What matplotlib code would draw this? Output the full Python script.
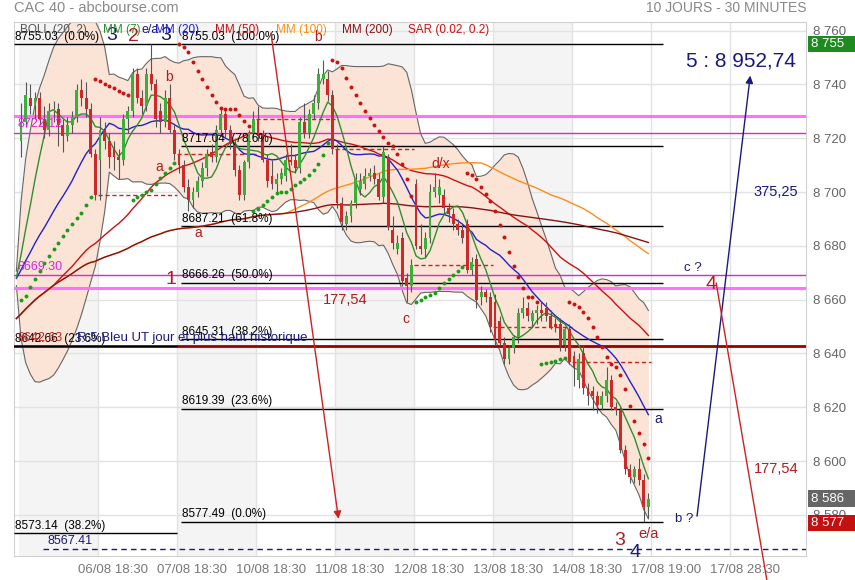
import numpy as np
import pandas as pd
import matplotlib
matplotlib.use("Agg")
import matplotlib.pyplot as plt
from matplotlib import transforms
from matplotlib.patches import Rectangle

plt.rcParams['font.family'] = ['Liberation Sans', 'DejaVu Sans']

# closes of 04/08 - 05/08 (not shown), only used to warm up the averages
prev_closes = [8632, 8635, 8638, 8641, 8637, 8634, 8636, 8640, 8643, 8645, 8642,
               8639, 8641, 8644, 8646, 8643, 8640, 8638, 8637, 8639, 8636, 8641,
               8664, 8667, 8669, 8668, 8666, 8668, 8670, 8669, 8667, 8668,
               8669, 8668, 8667, 8668, 8669, 8670, 8668, 8667, 8668, 8668]

# 30 minutes candles, 17 per session (06/08 -> 17/08)
opens = [
    8719, 8726, 8735, 8732, 8735, 8727, 8723, 8730, 8731, 8725, 8721, 8725, 8728, 8738, 8735, 8731, 8714,
    8712, 8723, 8719, 8716, 8713, 8712, 8727, 8730, 8744, 8735, 8732, 8744, 8740, 8730, 8726, 8735, 8723,
    8714, 8710, 8702, 8697, 8700, 8704, 8709, 8715, 8713, 8723, 8729, 8723, 8718, 8708, 8699, 8711, 8722,
    8727, 8721, 8712, 8706, 8703, 8705, 8706, 8712, 8712, 8709, 8726, 8722, 8729, 8733, 8742, 8742, 8736,
    8716, 8696, 8688, 8691, 8696, 8701, 8703, 8706, 8707, 8705, 8698, 8713, 8686, 8679, 8683, 8668, 8665,
    8703, 8680, 8679, 8683, 8700, 8699, 8699, 8694, 8692, 8688, 8686, 8688, 8671, 8675, 8661, 8663, 8661,
    8659, 8652, 8644, 8638, 8642, 8646, 8655, 8657, 8652, 8655, 8656, 8657, 8654, 8651, 8651, 8643, 8649,
    8639, 8630, 8640, 8627, 8626, 8624, 8621, 8624, 8630, 8620, 8619, 8604, 8597, 8594, 8597, 8593, 8583,
]
highs = [
    8733, 8741, 8740, 8737, 8737, 8732, 8733, 8734, 8733, 8727, 8728, 8730, 8740, 8742, 8741, 8733, 8716,
    8728, 8726, 8722, 8719, 8716, 8729, 8732, 8746, 8746, 8738, 8746, 8755, 8742, 8733, 8738, 8740, 8725,
    8716, 8712, 8705, 8702, 8706, 8711, 8716, 8718, 8725, 8731, 8731, 8725, 8720, 8710, 8712, 8723, 8730,
    8732, 8723, 8714, 8712, 8707, 8709, 8714, 8718, 8714, 8728, 8733, 8731, 8736, 8746, 8749, 8745, 8738,
    8718, 8698, 8693, 8697, 8707, 8707, 8709, 8709, 8710, 8707, 8717, 8714, 8691, 8684, 8685, 8670, 8675,
    8705, 8688, 8685, 8703, 8707, 8705, 8701, 8696, 8694, 8690, 8688, 8690, 8676, 8677, 8665, 8664, 8663,
    8662, 8654, 8646, 8643, 8647, 8657, 8661, 8659, 8656, 8658, 8659, 8659, 8656, 8653, 8653, 8650, 8651,
    8641, 8640, 8643, 8629, 8628, 8626, 8626, 8635, 8632, 8622, 8620, 8606, 8599, 8598, 8601, 8595, 8588,
]
lows = [
    8713, 8724, 8729, 8727, 8725, 8720, 8721, 8726, 8717, 8715, 8719, 8722, 8726, 8732, 8728, 8713, 8697,
    8697, 8716, 8709, 8708, 8705, 8710, 8722, 8728, 8733, 8729, 8730, 8738, 8724, 8722, 8724, 8722, 8712,
    8707, 8700, 8693, 8694, 8698, 8702, 8706, 8711, 8711, 8721, 8720, 8716, 8706, 8697, 8697, 8709, 8720,
    8719, 8711, 8702, 8701, 8700, 8703, 8704, 8710, 8707, 8707, 8720, 8720, 8727, 8731, 8740, 8734, 8714,
    8694, 8686, 8686, 8689, 8694, 8699, 8701, 8704, 8703, 8697, 8696, 8686, 8679, 8677, 8665, 8659, 8663,
    8679, 8677, 8676, 8681, 8698, 8696, 8692, 8689, 8686, 8684, 8681, 8670, 8669, 8657, 8658, 8659, 8648,
    8643, 8643, 8636, 8636, 8640, 8644, 8653, 8652, 8650, 8651, 8652, 8652, 8649, 8648, 8641, 8641, 8636,
    8628, 8627, 8625, 8621, 8619, 8618, 8619, 8622, 8619, 8617, 8603, 8595, 8592, 8592, 8591, 8577.49, 8579,
]
closes = [
    8726, 8736, 8732, 8735, 8727, 8723, 8730, 8731, 8725, 8721, 8725, 8728, 8738, 8735, 8731, 8714, 8699,
    8723, 8719, 8713, 8713, 8712, 8727, 8730, 8744, 8735, 8732, 8744, 8740, 8727, 8726, 8735, 8723, 8714,
    8710, 8702, 8697, 8700, 8704, 8709, 8714, 8713, 8723, 8729, 8723, 8718, 8708, 8699, 8711, 8722, 8727,
    8721, 8712, 8704, 8703, 8705, 8707, 8712, 8711, 8709, 8726, 8722, 8729, 8733, 8744, 8744, 8736, 8716,
    8696, 8689, 8691, 8696, 8705, 8704, 8706, 8707, 8705, 8698, 8715, 8687, 8681, 8681, 8667, 8665, 8673,
    8680, 8679, 8683, 8700, 8702, 8702, 8694, 8692, 8688, 8686, 8683, 8671, 8674, 8660, 8663, 8661, 8650,
    8645, 8644, 8638, 8642, 8646, 8655, 8657, 8654, 8655, 8656, 8655, 8654, 8650, 8650, 8643, 8649, 8637,
    8635, 8638, 8627, 8624, 8624, 8621, 8624, 8630, 8620, 8619, 8604, 8597, 8594, 8597, 8593, 8583, 8586,
]
sar_start = 8660

per_day = 17
time_labels = ["06/08 18:30", "07/08 18:30", "10/08 18:30", "11/08 18:30", "12/08 18:30",
               "13/08 18:30", "14/08 18:30", "17/08 19:00", "17/08 28:30"]
price_ticks = list(range(8580, 8761, 20))

fib_left_levels = [8755.03, 8642.66, 8573.14]
fib_left_pcts = ["0.0%", "23.6%", "38.2%"]
fib_right_levels = [8755.03, 8717.04, 8687.21, 8666.26, 8645.31, 8619.39, 8577.49]
fib_right_pcts = ["100.0%", "78.6%", "61.8%", "50.0%", "38.2%", "23.6%", "0.0%"]
magenta_levels = [8722.12, 8669.30]
pink_levels = [8728.2, 8664.2]
resistance = 8642.63
support = 8567.41
last_price, day_high, day_low = 8586, 8755, 8577

NAVY = '#1a1a7a'
DRED = '#b01c1c'


def psar(high, low, start, step=0.02, amax=0.2):
    n = len(high)
    out = np.zeros(n)
    trend = np.zeros(n, dtype=bool)
    s, ep, af, up = start, high[0], step, True
    out[0], trend[0] = s, True
    for i in range(1, n):
        s = s + af * (ep - s)
        if up:
            s = min(s, low[i - 1], low[max(i - 2, 0)])
            if low[i] < s:
                up, s, ep, af = False, ep, low[i], step
            elif high[i] > ep:
                ep, af = high[i], min(af + step, amax)
        else:
            s = max(s, high[i - 1], high[max(i - 2, 0)])
            if high[i] > s:
                up, s, ep, af = True, ep, high[i], step
            elif low[i] < ep:
                ep, af = low[i], min(af + step, amax)
        out[i], trend[i] = s, up
    return out, trend


o = np.array(opens, float)
h = np.array(highs, float)
l = np.array(lows, float)
c = np.array(closes, float)
n = len(c)
x = np.arange(n) + 0.5

fig = plt.figure(figsize=(8.55, 5.8), dpi=100)
ax = fig.add_axes([14 / 855, 24 / 580, 792 / 855, 534 / 580])
ax.set_xlim(-1.01, 169.42)
ax.set_ylim(8564.7, 8763.2)

# alternating session background
for d in range(0, 8, 2):
    ax.axvspan(d * per_day, (d + 1) * per_day, color='#f4f4f4', lw=0, zorder=0)

ax.set_yticks(price_ticks)
ax.set_yticklabels([f"{v:,}".replace(",", " ") for v in price_ticks])
ax.yaxis.tick_right()
ax.set_xticks(np.arange(1, 10) * per_day)
ax.set_xticklabels([])
ax.set_xticks(np.arange(1, 10) * per_day + 3.2, minor=True)
ax.set_xticklabels(time_labels, minor=True)
ax.tick_params(which='both', length=0)
ax.tick_params(axis='y', pad=5, labelcolor='#666666', labelsize=9.5)
ax.tick_params(axis='x', which='minor', pad=6, labelcolor='#777777', labelsize=9.5)
ax.grid(which='major', color='#e2e2e2', lw=1, zorder=0.5)
ax.set_axisbelow(True)
for sp in ax.spines.values():
    sp.set_color('#d0d0d0')

# indicators
allc = pd.Series(prev_closes + closes, dtype=float)
xa = np.arange(len(allc)) - len(prev_closes) + 0.5
k = len(prev_closes) - 1
mid = allc.rolling(20, min_periods=1).mean()
sd = allc.rolling(20, min_periods=1).std(ddof=0)
bb_up = mid + 2 * sd
bb_lo = mid - 2 * sd
ax.fill_between(xa[k:], bb_lo[k:], bb_up[k:], color='#fbe4d5', lw=0, zorder=1)
ax.plot(xa[k:], bb_up[k:], color='#666666', lw=0.8, zorder=2)
ax.plot(xa[k:], bb_lo[k:], color='#666666', lw=0.8, zorder=2)

ma_styles = [(50, '#cc1111'), (100, '#ff8c1a'), (200, '#8b1010'), (20, '#2222cc'), (7, '#2f8f2f')]
for w, col in ma_styles:
    ma = allc.rolling(w, min_periods=1).mean()
    ax.plot(xa[k:], ma[k:], color=col, lw=1, zorder=4.5)

# previous close of each session
for d in range(1, 8):
    ax.hlines(c[d * per_day - 1], d * per_day, (d + 1) * per_day, colors='#cc2222',
              linestyles=(0, (3, 2)), lw=1, zorder=3)

# horizontal levels
for lv in pink_levels:
    ax.axhline(lv, color='#ff70ff', lw=2.2, zorder=3)
for lv in magenta_levels:
    ax.axhline(lv, color='#dd22dd', lw=1, zorder=3)
ax.axhline(resistance, color='#990000', lw=2, zorder=3)
ax.hlines(support, 5.2, 169.42, colors=NAVY, linestyles=(0, (4, 3)), lw=1, zorder=3)

x0 = ax.get_xlim()[0]
for lv, pc in zip(fib_left_levels, fib_left_pcts):
    ax.hlines(lv, x0, 34.07, colors='black', lw=1, zorder=4)
    ax.annotate(f"{lv:.2f}  ({pc})", (x0, lv), xytext=(0.5, 1), textcoords='offset points',
                fontsize=8.5, va='bottom', ha='left', zorder=8)
for lv, pc in zip(fib_right_levels, fib_right_pcts):
    ax.hlines(lv, 34.9, 138.6, colors='black', lw=1, zorder=4)
    ax.annotate(f"{lv:.2f}  ({pc})", (34.9, lv), xytext=(0.5, 1), textcoords='offset points',
                fontsize=8.5, va='bottom', ha='left', zorder=8)

for lv in magenta_levels:
    ax.annotate(f"{lv:.2f}", (x0 + 0.8, lv), xytext=(0, 1.5), textcoords='offset points',
                fontsize=9, color='#dd22dd', va='bottom', ha='left', zorder=8)
ax.annotate(f"{resistance:.2f}", (x0 + 0.8, resistance), xytext=(0, 1.5), textcoords='offset points',
            fontsize=9, color='#cc2222', va='bottom', ha='left', zorder=8)
ax.annotate(f"{support:.2f}", (6.3, support), xytext=(0, 1.5), textcoords='offset points',
            fontsize=9, color=NAVY, va='bottom', ha='left', zorder=8)
ax.text(12.5, 8645.9, "R:5 Bleu UT jour et plus haut historique", color=NAVY,
        fontsize=9.5, va='center', ha='left', zorder=8)

# candles
bull = c >= o
ax.vlines(x, l, h, color='#555555', lw=0.8, zorder=5)
ax.bar(x, np.maximum(np.abs(c - o), 0.5), bottom=np.minimum(o, c), width=0.62,
       color=np.where(bull, '#3cae3c', '#cc2a2a'), lw=0, zorder=6)

# parabolic SAR
sar, sar_up = psar(h, l, sar_start)
ax.scatter(x[sar_up], sar[sar_up], s=8, color='#1f9a1f', lw=0, zorder=7)
ax.scatter(x[~sar_up], sar[~sar_up], s=8, color='#cc1111', lw=0, zorder=7)

# drawn projections
ax.annotate('', xy=(68.9, 8577.5), xytext=(54.2, 8760.1),
            arrowprops=dict(arrowstyle='-|>', color='#cc2222', lw=1, mutation_scale=11), zorder=8)
ax.annotate('', xy=(157.5, 8744.3), xytext=(145.9, 8578.5),
            arrowprops=dict(arrowstyle='-|>', color=NAVY, lw=1, mutation_scale=11), zorder=8)
ax.plot([150.1, 161.0], [8666.1, 8555.7], color='#cc2222', lw=1, zorder=8, clip_on=False)

wave_labels = [
    ("3", 20.0, 8758.0, NAVY, 14), ("2", 24.6, 8757.8, DRED, 14), ("3", 31.6, 8758.0, '#1c1c3c', 14),
    ("e/a", 28.4, 8760.3, NAVY, 9), ("b", 32.3, 8742.8, DRED, 10), ("a", 30.3, 8709.3, DRED, 10),
    ("b", 64.5, 8757.5, DRED, 10), ("a", 38.6, 8684.6, DRED, 10), ("d/x", 90.8, 8710.3, DRED, 10),
    ("c", 83.3, 8652.8, DRED, 10), ("1", 32.8, 8667.3, DRED, 14), ("177,54", 70.2, 8659.7, DRED, 10.5),
    ("3", 129.3, 8570.5, DRED, 14), ("e/a", 135.5, 8572.7, DRED, 10.5), ("4", 132.7, 8566.0, NAVY, 14),
    ("b ?", 143.2, 8578.3, NAVY, 9.5), ("c ?", 145.1, 8671.6, NAVY, 9.5), ("4", 148.9, 8665.5, DRED, 14),
    ("a", 137.7, 8615.7, NAVY, 10), ("375,25", 163.0, 8700.0, NAVY, 10.5),
    ("177,54", 163.1, 8597.0, DRED, 10.5), ("5 : 8 952,74", 155.4, 8748.7, NAVY, 15),
]
for txt, ux, py, col, fs in wave_labels:
    ax.text(ux, py, txt, color=col, fontsize=fs, ha='center', va='center', zorder=9)

# indicator legend
legend_items = [("BOLL (20, 2)", 20, '#555555'), ("MM (7)", 103, '#2f8f2f'), ("MM (20)", 155, '#2222cc'),
                ("MM (50)", 215, '#cc1111'), ("MM (100)", 276, '#ff8c1a'), ("MM (200)", 342, '#8b1010'),
                ("SAR (0.02, 0.2)", 408, '#cc1111')]
for txt, px, col in legend_items:
    fig.text(px / 855, 1 - 30 / 580, txt, color=col, fontsize=8.5, va='center', ha='left')

fig.text(14 / 855, 1 - 8 / 580, "CAC 40 - abcbourse.com", color='#888888', fontsize=10.5, va='center')
fig.text(806 / 855, 1 - 8 / 580, "10 JOURS - 30 MINUTES", color='#888888', fontsize=10, va='center', ha='right')

# price boxes on the right axis
blend = transforms.blended_transform_factory(fig.transFigure, ax.transData)
for val, col in [(day_high, '#1f8a1f'), (last_price, '#666666'), (day_low, '#c41010')]:
    ax.add_patch(Rectangle((808 / 855, val - 3.1), 47 / 855, 6.2, transform=blend,
                           facecolor=col, edgecolor='none', clip_on=False, zorder=10))
    ax.text(811 / 855, val, f"{val:,}".replace(",", " "), transform=blend, color='white',
            fontsize=9.5, va='center', ha='left', clip_on=False, zorder=11)

fig.savefig('out.png', dpi=100)
